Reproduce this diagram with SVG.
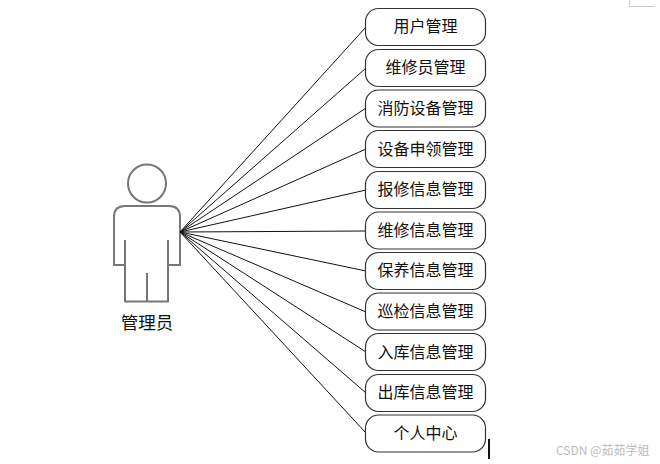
<svg xmlns="http://www.w3.org/2000/svg" width="660" height="464" viewBox="0 0 660 464">
<style>
.b{fill:#fff;stroke:#333;stroke-width:1.2}
.t{font-family:"Noto Sans CJK SC","Liberation Sans",sans-serif;font-size:16px;fill:#111;text-anchor:middle}
.c line{stroke:#111;stroke-width:1}
.a{fill:none;stroke:#777;stroke-width:2}
</style>
<rect width="660" height="464" fill="#fff"/>
<path d="M629.500 0V6.500H655" fill="none" stroke="#c8c8c8" stroke-width="1"/>
<g id="actor">
<circle class="a" cx="147" cy="183.500" r="19"/>
<path class="a" d="M125 265H114V217Q114 206 125 206H169Q180 206 180 217V265H168M125 240V301.500H168V240M147 273V301.500"/>
<text class="t" style="font-size:17.500px" x="147" y="329">管理员</text>
</g>
<g id="connectors" class="c">
<line x1="180" y1="232" x2="366" y2="27"/>
<line x1="180" y1="232" x2="366" y2="68"/>
<line x1="180" y1="232" x2="366" y2="108"/>
<line x1="180" y1="232" x2="366" y2="149"/>
<line x1="180" y1="232" x2="366" y2="190"/>
<line x1="180" y1="232" x2="366" y2="231"/>
<line x1="180" y1="232" x2="366" y2="271"/>
<line x1="180" y1="232" x2="366" y2="312"/>
<line x1="180" y1="232" x2="366" y2="352"/>
<line x1="180" y1="232" x2="366" y2="393"/>
<line x1="180" y1="232" x2="366" y2="433"/>
</g>
<g id="n1"><rect class="b" x="365.500" y="8.500" width="120" height="37" rx="13"/><text class="t" x="425.500" y="32">用户管理</text></g>
<g id="n2"><rect class="b" x="365.500" y="49.500" width="120" height="37" rx="13"/><text class="t" x="425.500" y="73">维修员管理</text></g>
<g id="n3"><rect class="b" x="365.500" y="90" width="120" height="37" rx="13"/><text class="t" x="425.500" y="114">消防设备管理</text></g>
<g id="n4"><rect class="b" x="365.500" y="130.500" width="120" height="37" rx="13"/><text class="t" x="425.500" y="155">设备申领管理</text></g>
<g id="n5"><rect class="b" x="365.500" y="171.500" width="120" height="37" rx="13"/><text class="t" x="425.500" y="195">报修信息管理</text></g>
<g id="n6"><rect class="b" x="365.500" y="212" width="120" height="37" rx="13"/><text class="t" x="425.500" y="236">维修信息管理</text></g>
<g id="n7"><rect class="b" x="365.500" y="252.500" width="120" height="37" rx="13"/><text class="t" x="425.500" y="276">保养信息管理</text></g>
<g id="n8"><rect class="b" x="365.500" y="293" width="120" height="37" rx="13"/><text class="t" x="425.500" y="317">巡检信息管理</text></g>
<g id="n9"><rect class="b" x="365.500" y="333.500" width="120" height="37" rx="13"/><text class="t" x="425.500" y="358">入库信息管理</text></g>
<g id="n10"><rect class="b" x="365.500" y="374.500" width="120" height="37" rx="13"/><text class="t" x="425.500" y="398">出库信息管理</text></g>
<g id="n11"><rect class="b" x="365.500" y="415" width="120" height="37" rx="13"/><text class="t" x="425.500" y="439">个人中心</text></g>
<path d="M489 439V459" stroke="#111" stroke-width="2" fill="none"/>
<text x="556" y="455" font-family="'Noto Sans CJK SC','Liberation Sans',sans-serif" font-size="12" fill="#bbb">CSDN @茹茹学姐</text>
</svg>
